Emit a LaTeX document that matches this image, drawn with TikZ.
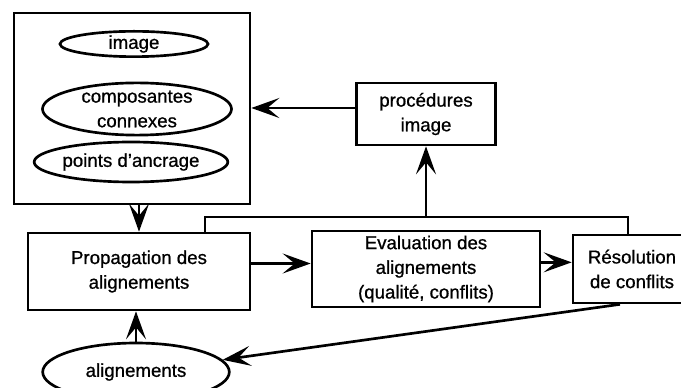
\documentclass[tikz,border=0pt]{standalone}
\usepackage{fontspec}
\setmainfont{Liberation Sans}[UprightFeatures={FakeBold=0.8}]
\usetikzlibrary{shapes.geometric,arrows.meta,calc}
\begin{document}
\begin{tikzpicture}[x=0.75pt,y=-0.75pt,
  every node/.style={font=\fontsize{14}{18.5}\selectfont, align=center},
  box/.style={draw, line width=2pt, rectangle, inner sep=0pt},
  oval/.style={draw, line width=2pt, ellipse, inner sep=0pt},
  conn/.style={line width=2pt},
  arr/.style={conn, -{Stealth[length=21pt,width=15pt,inset=9pt]}}]
\useasboundingbox[fill=white] (0,0) rectangle (681,388);
% data box
\node[box, minimum width=177pt, minimum height=143.25pt] (big) at (132,108.5) {};
\node[oval, minimum width=111pt, minimum height=19pt] (img) at (134,44) {image};
\node[oval, minimum width=141.75pt, minimum height=36pt] (comp) at (137,109) {composantes\\connexes};
\node[oval, minimum width=144pt, minimum height=30pt] (pts) at (131,162) {points d'ancrage};
% process boxes
\node[box, minimum width=104.25pt, minimum height=46.5pt] (proc) at (426,114) {procédures\\image};
\node[box, minimum width=166.5pt, minimum height=57.75pt] (prop) at (139,271.5) {Propagation des\\alignements};
\node[box, minimum width=171pt, minimum height=57pt] (eval) at (426,269) {Evaluation des\\alignements\\(qualité, conflits)};
\node[box, minimum width=88.5pt, minimum height=51pt] (res) at (632,269) {Résolution\\de conflits};
\node[oval, minimum width=140pt, minimum height=43.5pt] (al) at (136,372) {alignements};
% connectors
\coordinate (trunk) at (205,217);
\draw[arr] (prop.north |- big.south) -- (prop.north);
\draw[conn] (prop.north -| trunk) -- (trunk) -| ([xshift=-3pt]res.north);
\draw[arr] (proc.south |- trunk) -- (proc.south);
\draw[arr] ([yshift=4.5pt]proc.west) -- ([yshift=4.5pt]proc.west -| big.east);
\draw[arr] ([yshift=6pt]prop.east) -- ([yshift=6pt]prop.east -| eval.west);
\draw[arr] ([yshift=5pt]eval.east) -- ([yshift=5pt]eval.east -| res.west);
\draw[arr] ([xshift=-9pt]res.south) -- (al.8);
\draw[arr] (al.north) -- (al.north |- prop.south);
\end{tikzpicture}
\end{document}
